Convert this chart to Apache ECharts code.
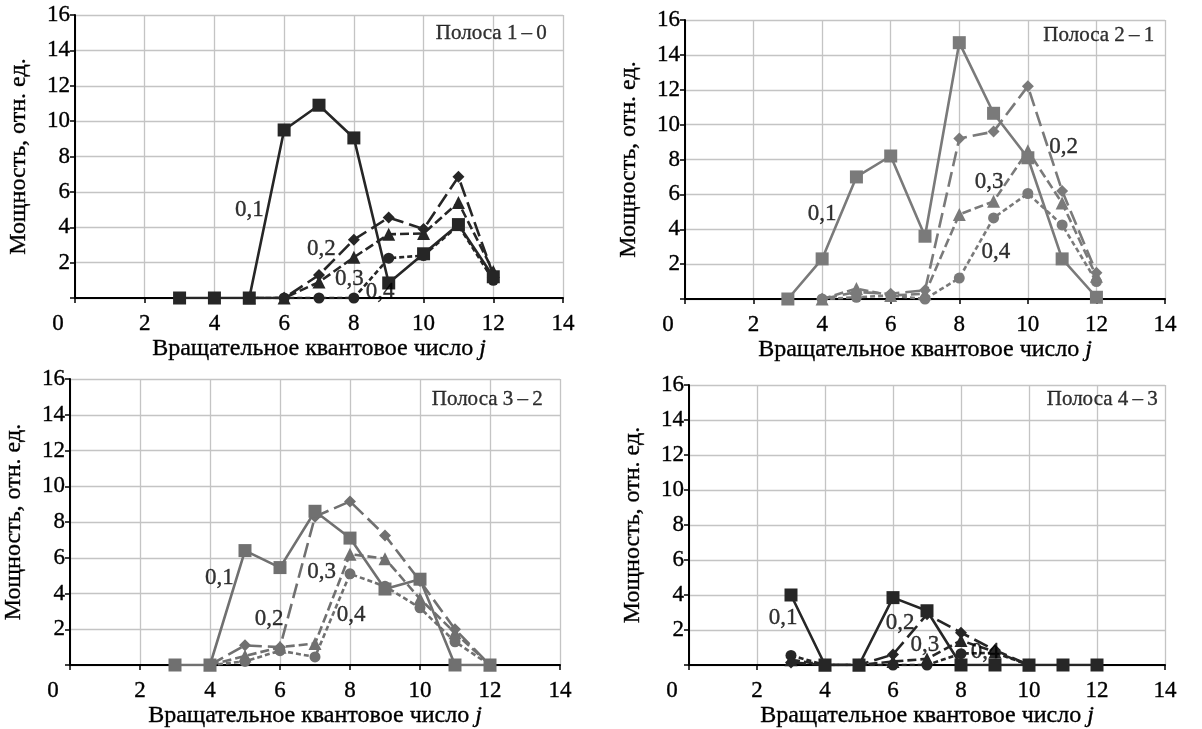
<!DOCTYPE html>
<html><head><meta charset="utf-8">
<script src="https://cdn.jsdelivr.net/npm/echarts@6/dist/echarts.min.js"></script>
<style>html,body{margin:0;padding:0;background:#fff}#c{width:1202px;height:729px}</style>
</head><body><div id="c"></div>
<script>
// ---------- data ----------
const xTicks = [0, 2, 4, 6, 8, 10, 12, 14];
const yTicks = [0, 2, 4, 6, 8, 10, 12, 14, 16];
const seriesNames = ['0,1', '0,2', '0,3', '0,4'];

// Полоса 1–0
const p1_j01 = [3, 4, 5, 6, 7, 8, 9, 10, 11, 12];
const p1_v01 = [0, 0, 0, 9.5, 10.9, 9.05, 0.85, 2.5, 4.15, 1.2];
const p1_j = [5, 6, 7, 8, 9, 10, 11, 12];
const p1_v02 = [0, 0, 1.3, 3.3, 4.55, 3.9, 6.85, 1.3];
const p1_v03 = [0, 0, 0.9, 2.3, 3.6, 3.65, 5.4, 1.5];
const p1_v04 = [0, 0, 0, 0, 2.25, 2.4, 4.1, 1.0];

// Полоса 2–1
const p2_j01 = [3, 4, 5, 6, 7, 8, 9, 10, 11, 12];
const p2_v01 = [0, 2.3, 7.0, 8.2, 3.6, 14.7, 10.65, 8.1, 2.3, 0.1];
const p2_j = [4, 5, 6, 7, 8, 9, 10, 11, 12];
const p2_v02 = [0, 0.4, 0.3, 0.5, 9.2, 9.6, 12.2, 6.2, 1.5];
const p2_v03 = [0, 0.6, 0.2, 0.3, 4.85, 5.6, 8.5, 5.5, 1.3];
const p2_v04 = [0, 0.1, 0.2, 0, 1.2, 4.65, 6.05, 4.25, 1.0];

// Полоса 3–2
const p3_j01 = [3, 4, 5, 6, 7, 8, 9, 10, 11, 12];
const p3_v01 = [0, 0, 6.4, 5.45, 8.6, 7.1, 4.25, 4.8, 0, 0];
const p3_j = [4, 5, 6, 7, 8, 9, 10, 11, 12];
const p3_v02 = [0, 1.1, 1.0, 8.3, 9.15, 7.25, 4.7, 2.0, 0];
const p3_v03 = [0, 0.5, 1.0, 1.2, 6.2, 5.95, 3.7, 1.8, 0];
const p3_v04 = [0, 0.2, 0.8, 0.45, 5.1, 4.4, 3.2, 1.3, 0];

// Полоса 4–3
const p4_j01 = [3, 4, 5, 6, 7, 8, 9, 10, 11, 12];
const p4_v01 = [4.0, 0, 0, 3.85, 3.1, 0, 0, 0, 0, 0];
const p4_j = [3, 4, 5, 6, 7, 8, 9, 10];
const p4_v02 = [0.15, 0, 0, 0.6, 2.9, 1.85, 0.85, 0];
const p4_v03 = [0.3, 0, 0, 0.2, 0.35, 1.4, 0.75, 0];
const p4_v04 = [0.55, 0, 0, 0, 0, 0.65, 0.7, 0];

const panelTitles = ['Полоса 1\u2009\u2013\u20090', 'Полоса 2\u2009\u2013\u20091', 'Полоса 3\u2009\u2013\u20092', 'Полоса 4\u2009\u2013\u20093'];
// annotation anchors in data units [j, power]
const p1_labelPos = [[5.0, 5.0], [7.07, 2.8], [7.87, 1.06], [8.75, 0.36]];
const p2_labelPos = [[4.0, 4.9], [11.04, 8.7], [8.87, 6.7], [9.07, 2.7]];
const p3_labelPos = [[4.27, 4.85], [5.69, 2.6], [7.19, 5.2], [8.03, 2.8]];
const p4_labelPos = [[2.77, 2.67], [6.21, 2.38], [6.94, 1.14], [8.71, 0.76]];
const titlePos = [[13.55, 14.95], [13.7, 15.1], [13.52, 14.86], [13.8, 15.15]];

const yName = 'Мощность, отн. ед.';
const xName = 'Вращательное квантовое число {i|j}';

// ---------- layout/styling ----------
const FONT = '"Liberation Serif","DejaVu Serif",serif';
const grids = [
  {left: 75, top: 15, width: 488, height: 283},
  {left: 685, top: 20, width: 480, height: 279},
  {left: 70, top: 379, width: 490, height: 286},
  {left: 689, top: 385, width: 476, height: 280}
];
const nameGaps = [35, 35, 31, 31];
const colors = ['#262626', '#7a7a7a', '#707070', '#262626'];
const symbols = ['rect', 'diamond', 'triangle', 'circle'];
const symSizes = [13, 12, 13, 11];
const dashes = ['solid', [15, 6], [9, 4], [5, 3]];
const TXT = {fontFamily: '"Liberation Serif","DejaVu Serif",serif', color: '#000', textBorderColor: '#000', textBorderWidth: 0.35};

const panels = [
  {j01: p1_j01, v01: p1_v01, j: p1_j, vs: [p1_v02, p1_v03, p1_v04], lab: p1_labelPos},
  {j01: p2_j01, v01: p2_v01, j: p2_j, vs: [p2_v02, p2_v03, p2_v04], lab: p2_labelPos},
  {j01: p3_j01, v01: p3_v01, j: p3_j, vs: [p3_v02, p3_v03, p3_v04], lab: p3_labelPos},
  {j01: p4_j01, v01: p4_v01, j: p4_j, vs: [p4_v02, p4_v03, p4_v04], lab: p4_labelPos}
];

const zip = (xs, ys) => xs.map((x, i) => [x, ys[i]]);
const TRANSPARENT = 'rgba(0,0,0,0)';
const T = (size, extra) => Object.assign({}, TXT, {fontSize: size}, extra || {});

const option = {
  animation: false,
  backgroundColor: '#fff',
  grid: grids.map(g => Object.assign({containLabel: false}, g)),
  xAxis: grids.map((g, i) => ({
    type: 'value', gridIndex: i, min: xTicks[0], max: xTicks[xTicks.length - 1], interval: 2,
    name: xName, nameLocation: 'middle', nameGap: nameGaps[i],
    nameTextStyle: T(24, {rich: {i: T(24, {fontStyle: 'italic'})}}),
    axisLine: {show: true, onZero: false, lineStyle: {color: '#000', width: 2}},
    axisTick: {show: true, length: 5, lineStyle: {color: '#000', width: 1.5}},
    axisLabel: Object.assign(T(23), {
      margin: 14, showMinLabel: true, showMaxLabel: true,
      formatter: v => v === 0 ? '{z|0}' : String(v),
      rich: {z: T(23, {padding: [0, 34, 0, 0]})}
    }),
    splitLine: {show: true, lineStyle: {color: '#c4c4c4', width: 1.3}}
  })),
  yAxis: grids.map((g, i) => ({
    type: 'value', gridIndex: i, min: yTicks[0], max: yTicks[yTicks.length - 1], interval: 2,
    name: yName, nameLocation: 'middle', nameGap: 44, nameRotate: 90,
    nameTextStyle: T(24),
    axisLine: {show: true, lineStyle: {color: '#000', width: 2}},
    axisTick: {show: true, length: 5, lineStyle: {color: '#000', width: 1.5}},
    axisLabel: Object.assign(T(23), {margin: 5, formatter: v => v === 0 ? '' : String(v)}),
    splitLine: {show: true, lineStyle: {color: '#c4c4c4', width: 1.3}}
  })),
  series: []
};

panels.forEach((p, i) => {
  const col = colors[i];
  const all = [zip(p.j01, p.v01)].concat(p.vs.map(v => zip(p.j, v)));
  [3, 2, 1, 0].forEach(k => {
    option.series.push({
      type: 'line', name: seriesNames[k], xAxisIndex: i, yAxisIndex: i,
      data: all[k], symbol: symbols[k], symbolSize: symSizes[k], showSymbol: true,
      itemStyle: {color: col}, lineStyle: {color: col, width: 2.6, type: dashes[k]},
      z: 3 + (3 - k)
    });
  });
  option.series.push({
    type: 'scatter', xAxisIndex: i, yAxisIndex: i, symbolSize: 1, itemStyle: {color: TRANSPARENT},
    data: p.lab.map((pt, k) => [pt[0], pt[1], seriesNames[k]]),
    label: Object.assign(T(23), {show: true, position: 'inside', formatter: q => q.value[2]}),
    z: 10, silent: true
  });
  option.series.push({
    type: 'scatter', xAxisIndex: i, yAxisIndex: i, symbolSize: 1, itemStyle: {color: TRANSPARENT},
    data: [[titlePos[i][0], titlePos[i][1], panelTitles[i]]],
    label: Object.assign(T(21), {show: true, position: 'left', distance: 0, formatter: q => q.value[2]}),
    z: 10, silent: true
  });
});

const chart = echarts.init(document.getElementById('c'), null, {renderer: 'canvas'});
chart.setOption(option);
</script></body></html>
